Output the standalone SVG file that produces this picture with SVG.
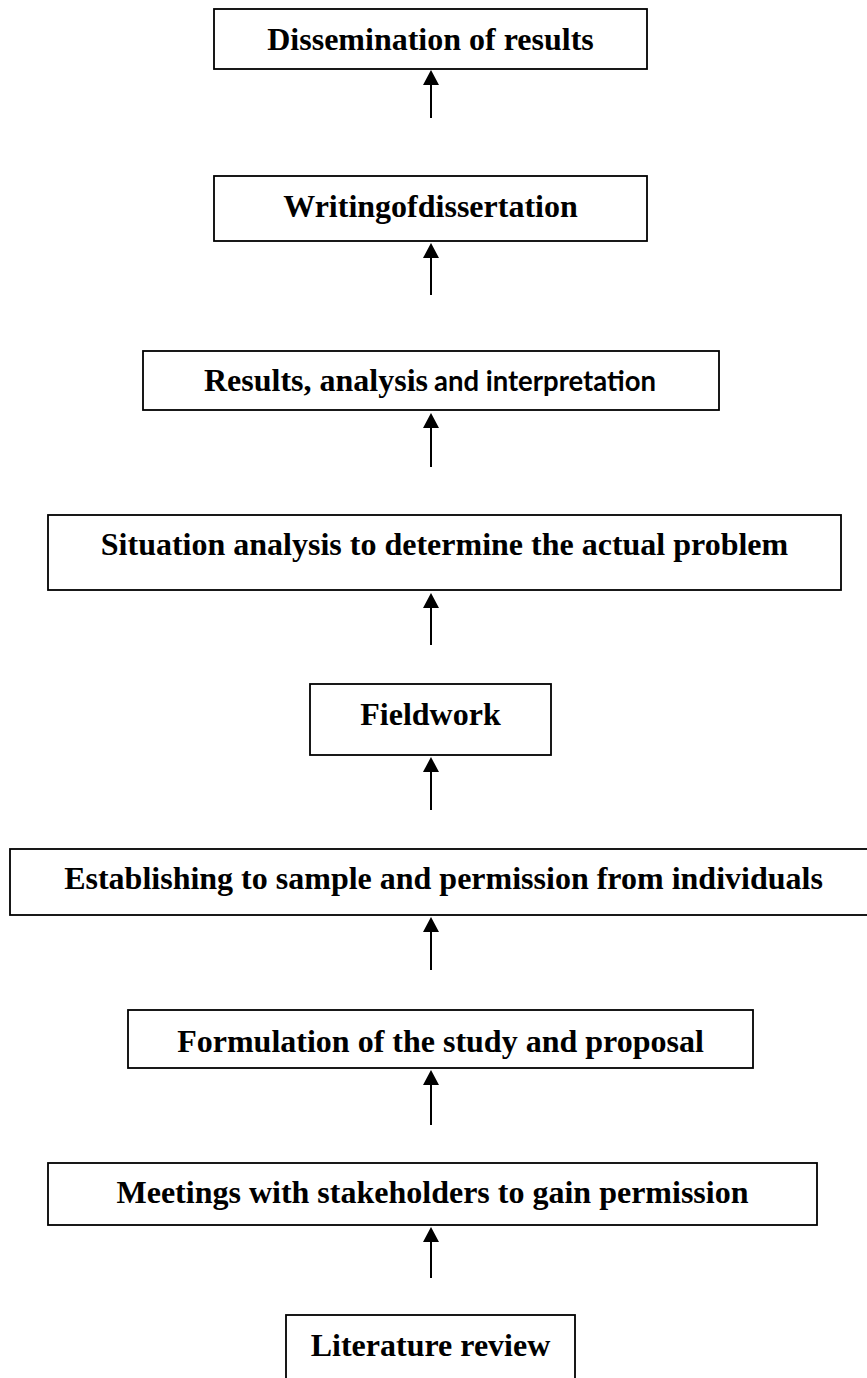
<svg xmlns="http://www.w3.org/2000/svg" width="867" height="1378" viewBox="0 0 867 1378">
<style>
.box{fill:#fff;stroke:#000;stroke-width:1.8}
.t{font-family:"Liberation Serif","Times New Roman",serif;font-weight:bold;font-size:32px;fill:#000;text-anchor:middle}
.s{font-family:Lato,"Open Sans",sans-serif;font-weight:bold;font-size:28px;fill:#000}
.c{stroke:#000;stroke-width:2;fill:none;marker-end:url(#ah)}
</style>
<defs>
<marker id="ah" markerUnits="userSpaceOnUse" markerWidth="15" markerHeight="16" refX="5" refY="8" orient="auto">
<path d="M0,0 L15,8 L0,16 z" fill="#000"/>
</marker>
</defs>
<rect width="867" height="1378" fill="#fff"/>
<g id="n1"><rect class="box" x="214" y="9" width="433" height="60"/><text class="t" x="430.5" y="50">Dissemination of results</text></g>
<g id="n2"><rect class="box" x="214" y="176" width="433" height="65"/><text class="t" x="430.5" y="217">Writingofdissertation</text></g>
<g id="n3"><rect class="box" x="143" y="351" width="576" height="59"/><text class="t" x="204" y="391" style="text-anchor:start">Results, analysis</text><text class="s" x="434" y="391" textLength="222" lengthAdjust="spacingAndGlyphs">and interpretation</text></g>
<g id="n4"><rect class="box" x="48" y="515" width="793" height="75"/><text class="t" x="444.5" y="555">Situation analysis to determine the actual problem</text></g>
<g id="n5"><rect class="box" x="310" y="684" width="241" height="71"/><text class="t" x="430.5" y="725">Fieldwork</text></g>
<g id="n6"><rect class="box" x="10" y="849" width="860" height="66"/><text class="t" x="443.5" y="889">Establishing to sample and permission from individuals</text></g>
<g id="n7"><rect class="box" x="128" y="1010" width="625" height="58"/><text class="t" x="440.5" y="1052">Formulation of the study and proposal</text></g>
<g id="n8"><rect class="box" x="48" y="1163" width="769" height="62"/><text class="t" x="432.5" y="1203">Meetings with stakeholders to gain permission</text></g>
<g id="n9"><rect class="box" x="286" y="1315" width="289" height="70"/><text class="t" x="430.5" y="1356">Literature review</text></g>
<g id="connectors">
<line class="c" x1="431" y1="118" x2="431" y2="80"/>
<line class="c" x1="431" y1="295" x2="431" y2="253"/>
<line class="c" x1="431" y1="467" x2="431" y2="423"/>
<line class="c" x1="431" y1="645" x2="431" y2="603"/>
<line class="c" x1="431" y1="810" x2="431" y2="767"/>
<line class="c" x1="431" y1="970" x2="431" y2="927"/>
<line class="c" x1="431" y1="1125" x2="431" y2="1080"/>
<line class="c" x1="431" y1="1278" x2="431" y2="1237"/>
</g>
</svg>
